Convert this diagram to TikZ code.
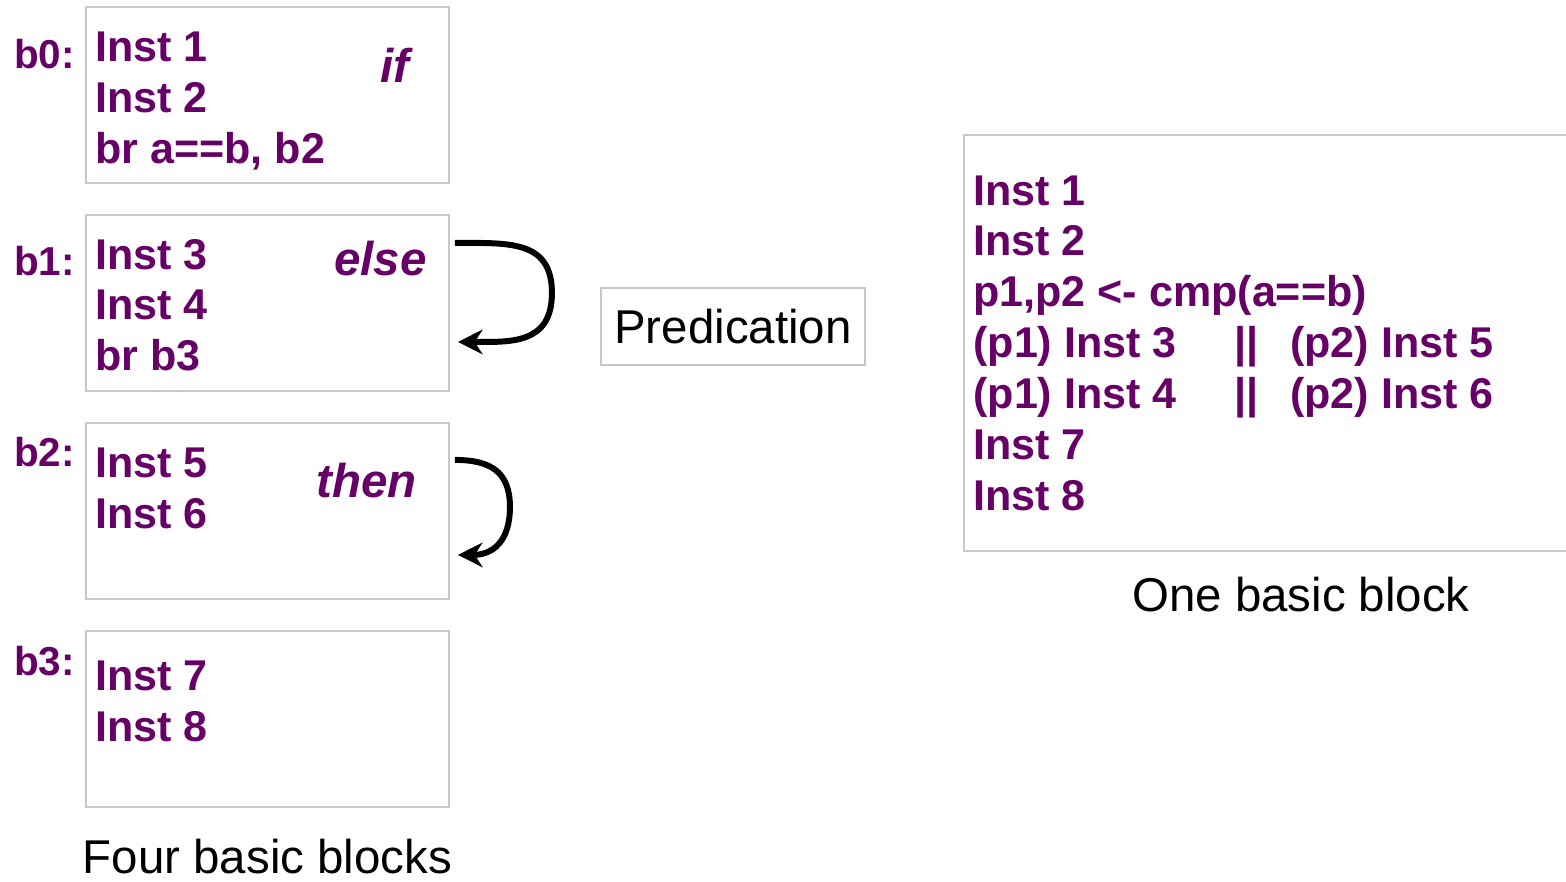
\documentclass[tikz,border=0pt]{standalone}
\usepackage{fontspec}
\setmainfont{Liberation Sans}
\usetikzlibrary{positioning,arrows.meta}
\definecolor{instpurple}{RGB}{102,0,102}
\definecolor{boxgray}{RGB}{200,200,200}

\begin{document}
\begin{tikzpicture}[x=0.02cm,y=-0.02cm,>={Stealth[length=14pt,width=14pt]},
    block/.style={draw=boxgray,line width=1.1pt,minimum width=7.26cm,minimum height=3.52cm,inner sep=0pt,outer sep=0pt},
    code/.style={font=\fontsize{24.5}{28.8}\selectfont\bfseries,text=instpurple,align=left,anchor=north west,inner sep=0pt},
    tag/.style={font=\fontsize{23}{26}\selectfont\bfseries,text=instpurple,anchor=base east,inner sep=0pt},
    kw/.style={font=\fontsize{27}{32}\selectfont\bfseries\itshape,text=instpurple,anchor=base east,inner sep=0pt},
    caption/.style={font=\fontsize{27}{32}\selectfont,inner sep=0pt},
    flow/.style={->,line width=3.4pt}]
    \useasboundingbox (0,0) rectangle (1566,882);

    % four basic blocks
    \node[block] (b0) at (267.5,95) {};
    \node[block] (b1) [below=0.64cm of b0] {};
    \node[block] (b2) [below=0.64cm of b1] {};
    \node[block] (b3) [below=0.64cm of b2] {};

    \node[tag] (l0) at ([xshift=-0.22cm,yshift=-1.22cm]b0.north west) {b0:};
    \node[tag] (l1) at ([xshift=-0.22cm,yshift=-1.22cm]b1.north west) {b1:};
    \node[tag] (l2) at ([xshift=-0.22cm,yshift=-0.88cm]b2.north west) {b2:};
    \node[tag] (l3) at ([xshift=-0.22cm,yshift=-0.9cm]b3.north west) {b3:};

    \node[code] (c0) at ([xshift=0.18cm,yshift=-0.5cm]b0.north west) {Inst 1\\Inst 2\\br a==b, b2};
    \node[code] (c1) at ([xshift=0.18cm,yshift=-0.48cm]b1.north west) {Inst 3\\Inst 4\\br b3};
    \node[code] (c2) at ([xshift=0.18cm,yshift=-0.5cm]b2.north west) {Inst 5\\Inst 6};
    \node[code] (c3) at ([xshift=0.18cm,yshift=-0.6cm]b3.north west) {Inst 7\\Inst 8};

    \node[kw] (k0) at ([xshift=-0.78cm,yshift=-1.5cm]b0.north east) {if};
    \node[kw] (k1) at ([xshift=-0.44cm,yshift=-1.22cm]b1.north east) {else};
    \node[kw] (k2) at ([xshift=-0.64cm,yshift=-1.5cm]b2.north east) {then};

    \coordinate (s1) at ([xshift=0.12cm,yshift=-0.56cm]b1.north east);
    \coordinate (m1) at ([xshift=2.06cm,yshift=0.2cm]b1.east);
    \coordinate (t1) at ([xshift=0.18cm,yshift=0.98cm]b1.south east);
    \coordinate (s2) at ([xshift=0.12cm,yshift=-0.74cm]b2.north east);
    \coordinate (m2) at ([xshift=1.22cm,yshift=0.08cm]b2.east);
    \coordinate (t2) at ([xshift=0.18cm,yshift=0.88cm]b2.south east);

    \draw[line width=3.4pt] (s1) to[out=0,in=90,looseness=1.25] (m1);
    \draw[flow] (m1) to[out=-90,in=0,looseness=1.25] (t1);
    \draw[line width=3.4pt] (s2) to[out=0,in=90,looseness=1.25] (m2);
    \draw[flow] (m2) to[out=-90,in=0,looseness=1.25] (t2);

    \node[caption] (four) [below=0.64cm of b3] {Four basic blocks};

    % predication
    \node[draw=boxgray,line width=1.1pt,minimum width=5.28cm,minimum height=1.54cm,inner sep=0pt,
        font=\fontsize{27}{32}\selectfont] (pred) at (733,326.5) {Predication};

    % one basic block
    \node[block,minimum width=12.12cm,minimum height=8.32cm] (one) at (1267,343) {};
    \node[code,font=\fontsize{24.5}{29}\selectfont\bfseries] (cone) at ([xshift=0.18cm,yshift=-0.8cm]one.north west)
        {Inst 1\\Inst 2\\p1,p2 <- cmp(a==b)\\
         \makebox[5.22cm][l]{(p1) Inst 3}\makebox[1.12cm][l]{||}(p2) Inst 5\\
         \makebox[5.22cm][l]{(p1) Inst 4}\makebox[1.12cm][l]{||}(p2) Inst 6\\
         Inst 7\\Inst 8};
    \node[caption] (onecap) [below=0.52cm of one,xshift=0.68cm] {One basic block};
\end{tikzpicture}
\end{document}
